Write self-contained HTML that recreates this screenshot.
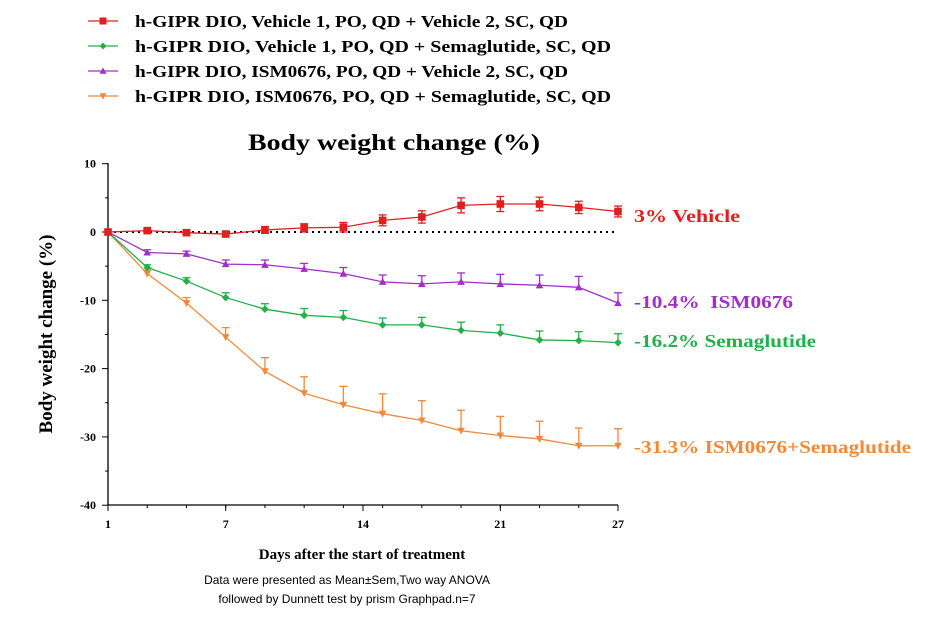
<!DOCTYPE html>
<html><head><meta charset="utf-8"><style>
html,body{margin:0;padding:0;background:#fff;}
svg{display:block;}
</style></head><body>
<svg id="s" width="944" height="618" xmlns="http://www.w3.org/2000/svg" font-family="Liberation Serif, serif"></svg>
<script>
const s=document.getElementById('s');
let h='';
const X=d=>108+(d-1)*510/26, Y=v=>232-v*6.83;
const leg=[["#e02020","sq","h-GIPR DIO, Vehicle 1, PO, QD + Vehicle 2, SC, QD",433],
["#22b04a","di","h-GIPR DIO, Vehicle 1, PO, QD + Semaglutide, SC, QD",476],
["#a030c8","up","h-GIPR DIO, ISM0676, PO, QD + Vehicle 2, SC, QD",433],
["#f08a3a","dn","h-GIPR DIO, ISM0676, PO, QD + Semaglutide, SC, QD",476]];
function mk(t,x,y,c,r){r=r||3.5;
 if(t=="sq")return `<rect x="${x-r}" y="${y-r}" width="${2*r}" height="${2*r}" fill="${c}"/>`;
 if(t=="di")return `<polygon points="${x},${y-r} ${x+r},${y} ${x},${y+r} ${x-r},${y}" fill="${c}"/>`;
 if(t=="up")return `<polygon points="${x},${y-r} ${x+r},${y+r*0.8} ${x-r},${y+r*0.8}" fill="${c}"/>`;
 return `<polygon points="${x},${y+r} ${x+r},${y-r*0.8} ${x-r},${y-r*0.8}" fill="${c}"/>`;}
leg.forEach((l,i)=>{const y=21+i*25;
 h+=`<line x1="88" y1="${y}" x2="118" y2="${y}" stroke="${l[0]}" stroke-width="1.2"/>`+mk(l[1],103,y,l[0]);
 h+=`<text x="135" y="${y+6}" font-size="17" font-weight="bold" textLength="${l[3]}" lengthAdjust="spacingAndGlyphs">${l[2]}</text>`;});
h+=`<text x="248" y="150" font-size="23" font-weight="bold" textLength="292" lengthAdjust="spacingAndGlyphs">Body weight change (%)</text>`;
h+=`<line x1="108" y1="163" x2="108" y2="505" stroke="#000" stroke-width="1.3"/><line x1="108" y1="505" x2="618" y2="505" stroke="#000" stroke-width="1.3"/>`;
for(let v=10;v>=-40;v-=10){const y=Y(v);h+=`<line x1="102" y1="${y}" x2="108" y2="${y}" stroke="#000"/><text x="96" y="${y+4}" font-size="12" font-weight="bold" text-anchor="end">${v}</text>`;}
for(let v=5;v>=-35;v-=10){const y=Y(v);h+=`<line x1="105" y1="${y}" x2="108" y2="${y}" stroke="#000"/>`;}
[1,7,14,21,27].forEach(d=>{h+=`<line x1="${X(d)}" y1="505" x2="${X(d)}" y2="511" stroke="#000"/><text x="${X(d)}" y="528" font-size="12" font-weight="bold" text-anchor="middle">${d}</text>`;});
for(let d=3;d<27;d+=2)h+=`<line x1="${X(d)}" y1="505" x2="${X(d)}" y2="508" stroke="#000"/>`;
h+=`<line x1="108" y1="232" x2="618" y2="232" stroke="#000" stroke-width="2" stroke-dasharray="2,4"/>`;
h+=`<text x="362" y="559" font-size="15" font-weight="bold" text-anchor="middle">Days after the start of treatment</text>`;
h+=`<text transform="translate(52,334) rotate(-90)" font-size="19" font-weight="bold" text-anchor="middle">Body weight change (%)</text>`;
h+=`<text x="347" y="584" font-size="12" font-family="Liberation Sans, sans-serif" text-anchor="middle">Data were presented as Mean±Sem,Two way ANOVA</text>`;
h+=`<text x="347" y="603" font-size="12" font-family="Liberation Sans, sans-serif" text-anchor="middle">followed by Dunnett test by prism Graphpad.n=7</text>`;
const days=[1,3,5,7,9,11,13,15,17,19,21,23,25,27];
const ser=[
["#f08a3a","dn",[0,-6.1,-10.4,-15.4,-20.4,-23.6,-25.3,-26.6,-27.6,-29.1,-29.8,-30.3,-31.3,-31.3],[0,.5,.8,1.4,2,2.4,2.7,2.9,2.9,3,2.8,2.6,2.6,2.5]],
["#22b04a","di",[0,-5.2,-7.2,-9.6,-11.3,-12.2,-12.5,-13.6,-13.6,-14.4,-14.8,-15.8,-15.9,-16.2],[0,.4,.5,.7,.8,1,1,1,1.1,1.2,1.2,1.3,1.3,1.3]],
["#a030c8","up",[0,-3,-3.2,-4.7,-4.8,-5.4,-6.1,-7.3,-7.6,-7.3,-7.6,-7.8,-8.1,-10.4],[0,.4,.4,.6,.7,.8,.9,1,1.2,1.3,1.4,1.5,1.6,1.5]],
["#e02020","sq",[0,.2,-.1,-.3,.3,.6,.7,1.7,2.2,3.9,4.1,4.1,3.6,3.0],[0,.2,.3,.3,.5,.6,.7,.8,.9,1.1,1.1,1,.9,.8]]];
ser.forEach(se=>{const c=se[0];let p=days.map((d,i)=>X(d)+','+Y(se[2][i])).join(' ');
 h+=`<polyline points="${p}" fill="none" stroke="${c}" stroke-width="1.3"/>`;
 days.forEach((d,i)=>{const x=X(d),y=Y(se[2][i]),e=se[3][i]*6.83;
  if(e>0){const y2=y-e;h+=`<line x1="${x}" y1="${y+ (se[1]=="sq"?e:0)}" x2="${x}" y2="${y2}" stroke="${c}" stroke-width="1.3"/><line x1="${x-4}" y1="${y2}" x2="${x+4}" y2="${y2}" stroke="${c}" stroke-width="1.3"/>`;
   if(se[1]=="sq")h+=`<line x1="${x-4}" y1="${y+e}" x2="${x+4}" y2="${y+e}" stroke="${c}" stroke-width="1.3"/>`;}
  h+=mk(se[1],x,y,c,3.8);});});
const lab=[["#e02020",216,"3% Vehicle",106],["#a030c8",302,"-10.4%  ISM0676",159],["#22b04a",341,"-16.2% Semaglutide",182],["#f08a3a",447,"-31.3% ISM0676+Semaglutide",277]];
lab.forEach(l=>{h+=`<text x="634" y="${l[1]+6}" font-size="18" font-weight="bold" fill="${l[0]}" textLength="${l[3]}" lengthAdjust="spacingAndGlyphs" xml:space="preserve">${l[2]}</text>`;});
s.innerHTML=h;
</script>
</body></html>
